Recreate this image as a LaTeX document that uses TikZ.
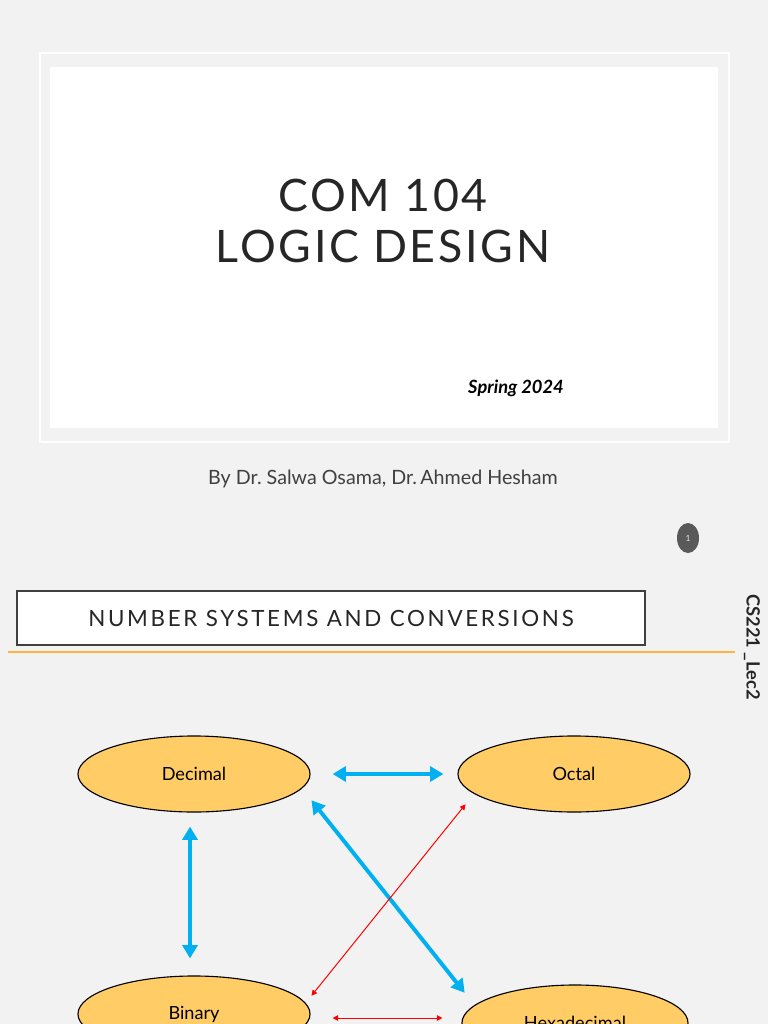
\documentclass[tikz,border=0pt]{standalone}
\usepackage{fontspec}
\setmainfont{Lato}
\newfontfamily\titlefont[LetterSpace=6]{Lato}
\newfontfamily\headfont[LetterSpace=12]{Lato}
\usetikzlibrary{arrows.meta,positioning,shapes.geometric}
\definecolor{slidebg}{HTML}{F2F2F2}
\definecolor{titleink}{HTML}{262626}
\definecolor{subink}{HTML}{404040}
\definecolor{boxline}{HTML}{404040}
\definecolor{badgegray}{HTML}{595959}
\definecolor{rulegold}{HTML}{FFB43C}
\definecolor{ovalfill}{HTML}{FFCC66}
\definecolor{convblue}{HTML}{00B0F0}
\definecolor{convred}{HTML}{FF0000}
\tikzset{
  numsys/.style={draw=black, line width=0.8pt, ellipse, fill=ovalfill, inner sep=0pt, minimum width=5.8cm, minimum height=1.9cm, font=\fontsize{12.9}{15}\selectfont},
  headbox/.style={draw=boxline, line width=1.8pt, fill=white, inner sep=0pt, minimum width=15.7cm, minimum height=1.35cm},
  bigarrow/.style={{Triangle[length=3.3mm,width=3.7mm]}-{Triangle[length=3.3mm,width=3.7mm]}, line width=2.8pt, draw=convblue},
  thinarrow/.style={{Triangle[length=1.4mm,width=1.4mm]}-{Triangle[length=1.4mm,width=1.4mm]}, line width=0.7pt, draw=convred}
}

\begin{document}
\begin{tikzpicture}[x=0.025cm, y=-0.025cm]
  \fill[slidebg] (0,0) rectangle (768,1024);
  \useasboundingbox (0,0) rectangle (768,1024);
  \clip (0,0) rectangle (768,1024);

  % title slide
  \draw[white, line width=1.2pt] (40,53) rectangle (729,442);
  \fill[white] (50,67) rectangle (718,428);
  \node[text=titleink, align=center, font=\titlefont\fontsize{31.8}{35.6}\selectfont] (title) at (383,221) {COM 104\\LOGIC DESIGN};
  \node[text=black, font=\fontsize{13}{15}\selectfont\bfseries\itshape] (term) at (516,388) {Spring 2024};
  \node[text=subink, font=\fontsize{14}{17}\selectfont] (authors) at (383,479) {By Dr.\ Salwa Osama, Dr.\,Ahmed Hesham};
  \node[ellipse, fill=badgegray, inner sep=0pt, minimum width=0.55cm, minimum height=0.75cm, text=white!85!badgegray, font=\fontsize{6}{7}\selectfont] (pagenum) at (688,538) {1};

  % second slide
  \node[headbox, text=titleink, font=\headfont\fontsize{15.9}{18}\selectfont] (heading) at (331,618) {NUMBER SYSTEMS AND CONVERSIONS};
  \draw[rulegold, line width=0.9pt] (8,652) -- (735,652);
  \node[text=titleink, rotate=-90, font=\fontsize{13}{15}\selectfont\bfseries] (lectag) at (752,647) {CS221 \_Lec2};

  \node[numsys] (dec) at (194,774) {Decimal};
  \node[numsys] (oct) at (574,774) {Octal};
  \node[numsys] (bin) at (194,1014) {Binary};
  \node[numsys, minimum width=5.65cm] (hex) at (575,1023) {Hexadecimal};

  \draw[bigarrow, shorten <=0.55cm, shorten >=0.35cm] (dec.east) -- (oct.west);
  \draw[bigarrow] ([shift={(-4,14)}]dec.south) -- ([shift={(-4,-17)}]bin.north);
  \draw[bigarrow] ([shift={(35,-1)}]dec.south east) -- ([shift={(-30,-3)}]hex.north west);
  \draw[thinarrow] ([shift={(35,9)}]bin.north east) -- ([shift={(-26,3)}]oct.south west);
  \draw[thinarrow] ([shift={(22,4)}]bin.east) -- ([shift={(-19,-5)}]hex.west);
\end{tikzpicture}
\end{document}
